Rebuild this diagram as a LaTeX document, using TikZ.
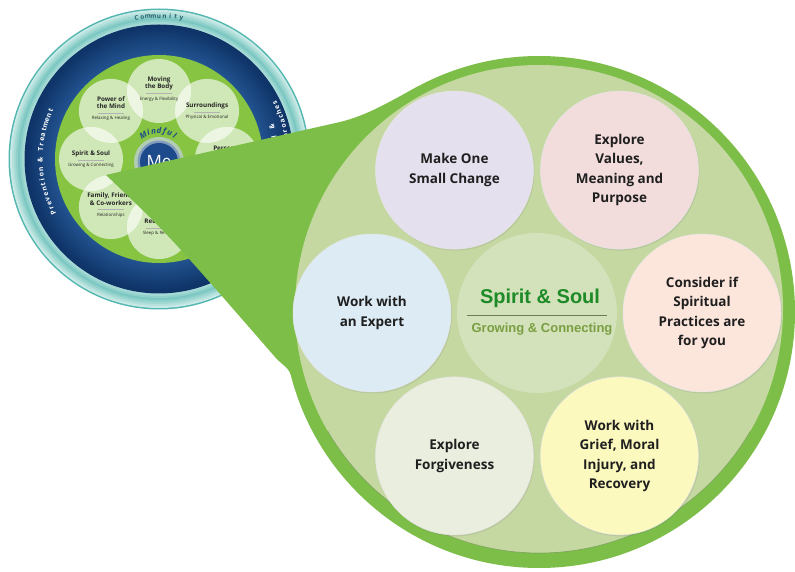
\documentclass[tikz,border=0pt]{standalone}
\usepackage{fontspec}
\setmainfont{Open Sans}
\newfontfamily\arialfont{Liberation Sans}
\usetikzlibrary{calc,shadows}

\definecolor{rimgreen}{RGB}{124,190,72}
\definecolor{fillgreen}{RGB}{197,216,161}
\definecolor{hubgreen}{RGB}{211,226,186}
\definecolor{titlegreen}{RGB}{30,138,40}
\definecolor{subgreen}{RGB}{122,158,66}
\definecolor{rulegreen}{RGB}{104,124,86}
\definecolor{lavender}{RGB}{229,224,238}
\definecolor{rosy}{RGB}{242,220,220}
\definecolor{skyish}{RGB}{220,235,244}
\definecolor{peach}{RGB}{252,230,220}
\definecolor{sage}{RGB}{234,238,222}
\definecolor{lemon}{RGB}{252,249,191}
\definecolor{tealdark}{RGB}{84,182,176}
\definecolor{tealpale}{RGB}{214,240,236}
\definecolor{navydark}{RGB}{14,52,104}
\definecolor{navylight}{RGB}{44,96,160}
\definecolor{wheelgreen}{RGB}{134,196,66}
\definecolor{meblue}{RGB}{28,74,138}
\definecolor{commteal}{RGB}{40,96,110}

\newcommand{\ideafont}{\fontsize{13.5}{19.5}\selectfont\bfseries}
\newcommand{\petalfont}{\fontsize{6.3}{7.3}\selectfont\bfseries}
\newcommand{\petalsub}[1]{{\fontsize{4.4}{5}\selectfont\mdseries #1}}
\newcommand{\petalrule}{\textcolor{black!30}{\rule[1.2pt]{26pt}{0.3pt}}}
\newcommand{\ringfont}{\fontsize{6.8}{8}\selectfont\bfseries}
\newcommand{\commfont}{\fontsize{6.3}{7}\selectfont\bfseries}
\newcommand{\mindfont}{\fontsize{8}{9}\selectfont\bfseries\itshape}

\tikzset{
  idea/.style={circle, minimum size=158pt, inner sep=0pt, align=center,
    font=\ideafont, text=black!88, draw=black!10, line width=0.5pt,
    drop shadow={shadow xshift=1pt, shadow yshift=-1.5pt, opacity=0.18}},
  petal/.style={circle, minimum size=64pt, inner sep=0pt, fill=white, fill opacity=0.62},
  petaltext/.style={align=center, font=\petalfont, inner sep=0pt, text=black!85},
  letter/.style={inner sep=0pt, text height=1.2ex, text depth=0.2ex}
}

\begin{document}
\begin{tikzpicture}[x=1pt, y=1pt]
\useasboundingbox (0,0) rectangle (795,571);

% small wheel
\coordinate (W) at (159,412);
\fill[tealdark] (W) circle (150.5);
\foreach \i in {0,...,7} {
  \pgfmathtruncatemacro\pc{70-abs(\i-4)*15}
  \fill[tealdark!\pc!tealpale] (W) circle ({149-\i*2});
}
\fill[navydark] (W) circle (134.5);
\foreach \i in {0,...,14} {
  \pgfmathtruncatemacro\pc{\i*5}
  \fill[navylight!\pc!navydark] (W) circle ({133-\i*2});
}
\fill[wheelgreen] (W) circle (104);

\foreach \ang/\nm in {90/body,45/surround,0/personal,-45/food,-90/recharge,-135/family,180/spirit,135/mind}
  \node[petal] (\nm) at ($(W)+(\ang:68)$) {};

\node[petaltext] (body-t) at ($(body)+(0,2)$) {Moving\\the Body\\[-1.5pt]\petalrule\\[-2pt]\petalsub{Energy \& Flexibility}};
\node[petaltext] (surround-t) at ($(surround)+(0,0)$) {Surroundings\\[-1.5pt]\petalrule\\[-2pt]\petalsub{Physical \& Emotional}};
\node[petaltext] (personal-t) at ($(personal)+(0,6)$) {Personal\\Development};
\node[petaltext] (recharge-t) at ($(recharge)+(0,0)$) {Recharge\\[-1.5pt]\petalrule\\[-2pt]\petalsub{Sleep \& Refresh}};
\node[petaltext] (family-t) at ($(family)+(0,2)$) {Family, Friends\\\& Co-workers\\[-1.5pt]\petalrule\\[-2pt]\petalsub{Relationships}};
\node[petaltext] (spirit-t) at ($(spirit)+(0,0)$) {Spirit \& Soul\\[-1.5pt]\petalrule\\[-2pt]\petalsub{Growing \& Connecting}};
\node[petaltext] (mind-t) at ($(mind)+(0,2)$) {Power of\\the Mind\\[-1.5pt]\petalrule\\[-2pt]\petalsub{Relaxing \& Healing}};

% me in the middle
\coordinate (mec) at ($(W)+(0,-3)$);
\fill[meblue!25, opacity=0.7] (mec) circle (25);
\fill[meblue!55] (mec) circle (21.5);
\node[circle, fill=meblue, minimum size=38pt, inner sep=0pt, text=white,
  font=\fontsize{17}{17}\selectfont] (me) at (mec) {Me};
\foreach \ch [count=\k] in {M,i,n,d,f,u,l}
  \node[letter, font=\mindfont, text=meblue, rotate={120.5-(\k-1)*10.2-90}]
    (mind-\k) at ($(mec)+({120.5-(\k-1)*10.2}:31)$) {\ch};

% ring labels
\foreach \ch [count=\k] in {C,o,m,m,u,n,i,t,y}
  \node[letter, font=\commfont, text=commteal, rotate={99-(\k-1)*2.25-90}]
    (comm-\k) at ($(W)+({99-(\k-1)*2.25}:143.5)$) {\ch};
\foreach \ch [count=\k] in {P,r,e,v,e,n,t,i,o,n,{},\&,{},T,r,e,a,t,m,e,n,t}
  \node[letter, font=\ringfont, text=white, rotate={207-(\k-1)*2.43-90}]
    (prev-\k) at ($(W)+({207-(\k-1)*2.43}:119)$) {\ch};
\foreach \ch [count=\k] in {C,o,n,v,e,n,t,i,o,n,a,l,{},\&}
  \node[letter, font=\ringfont, text=white, rotate={-16+(\k-1)*2.46+90}]
    (conv-\k) at ($(W)+({-16+(\k-1)*2.46}:117)$) {\ch};
\foreach \ch [count=\k] in {C,o,m,p,l,e,m,e,n,t,a,r,y,{},A,p,p,r,o,a,c,h,e,s}
  \node[letter, font=\ringfont, text=white, rotate={-26+(\k-1)*2.26+90}]
    (comp-\k) at ($(W)+({-26+(\k-1)*2.26}:128.5)$) {\ch};

% wedge
\coordinate (tip) at (106,396);
\coordinate (a1) at (340,449);
\coordinate (p1) at (419,485);
\coordinate (a2) at (275,214);
\coordinate (p2) at (292,193);
\coordinate (BC) at (539,259);
\fill[rimgreen] (tip) -- (a1) .. controls (369,456) and (392,471) .. (p1)
  -- (BC) -- (p2) .. controls (289,204) and (283,205) .. (a2)
  .. controls (168,337) .. (tip) -- cycle;

% big circle
\fill[rimgreen] (BC) circle (256);
\fill[fillgreen] ($(BC)+(0,3)$) circle (244);
\draw[rulegreen!70!rimgreen, line width=0.7pt, opacity=0.6]
  ($(BC)+(0,3)+(210:244)$) arc[start angle=210, end angle=330, radius=244];

\node[circle, fill=hubgreen, minimum size=160pt] (hub) at (537,258) {};
\node[idea, fill=lavender] (change) at ($(hub)+(120:165)$) {Make One\\Small Change};
\node[idea, fill=rosy] (values) at ($(hub)+(60:165)$) {Explore\\Values,\\Meaning and\\Purpose};
\node[idea, fill=skyish] (expert) at ($(hub)+(180:165)$) {Work with\\an Expert};
\node[idea, fill=peach] (practices) at ($(hub)+(0:165)$) {Consider if\\Spiritual\\Practices are\\for you};
\node[idea, fill=sage] (forgive) at ($(hub)+(240:165)$) {Explore\\Forgiveness};
\node[idea, fill=lemon] (grief) at ($(hub)+(300:165)$) {Work with\\Grief, Moral\\Injury, and\\Recovery};

\node[font=\arialfont\fontsize{20}{24}\selectfont\bfseries, text=titlegreen] (soul)
  at ($(hub)+(3,15)$) {Spirit \& Soul};
\coordinate (rule-l) at ($(hub)+(-70,-3)$);
\coordinate (rule-r) at ($(hub)+(70,-3)$);
\draw[rulegreen, line width=1pt] (rule-l) -- (rule-r);
\node[font=\arialfont\fontsize{13}{15}\selectfont\bfseries, text=subgreen] (grow)
  at ($(hub)+(5,-16)$) {Growing \& Connecting};
\end{tikzpicture}
\end{document}
